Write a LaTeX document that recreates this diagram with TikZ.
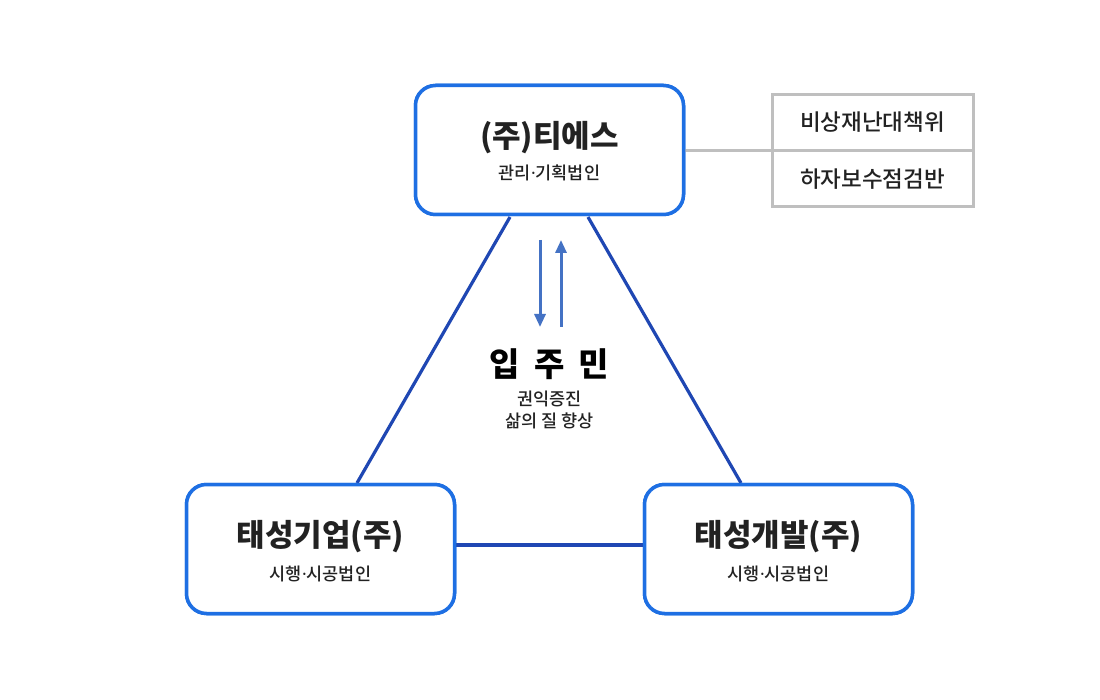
\documentclass[tikz,border=0pt]{standalone}
\usepackage{fontspec}
\setmainfont{Noto Sans CJK KR}
\newfontfamily\krm{Noto Sans CJK KR Medium}
\newfontfamily\latdot{Noto Sans}
\newcommand{\mdt}{{\latdot\bfseries ·}}
\usetikzlibrary{arrows.meta}
\definecolor{boxblue}{HTML}{1E6FE3}
\definecolor{lineblue}{HTML}{1F47B3}
\definecolor{arrblue}{HTML}{4472C4}
\definecolor{graybox}{HTML}{BFBFBF}
\definecolor{txt}{HTML}{222222}
\begin{document}
\begin{tikzpicture}[x=1pt,y=-1pt,
  corp/.style={draw=boxblue,line width=3.5pt,rounded corners=20pt,fill=white,minimum width=268pt,minimum height=129pt,inner sep=0pt},
  sidebox/.style={draw=graybox,line width=3pt,minimum width=201pt,minimum height=56pt,inner sep=0pt,text=txt,font=\fontsize{22.5}{26}\krm},
  tri/.style={draw=lineblue,line width=3.2pt},
  arr/.style={draw=arrblue,line width=3pt,-{Triangle[length=13pt,width=11pt]}},
  ttl/.style={text=txt,font=\fontsize{31}{35}\selectfont\bfseries,inner sep=0pt},
  sub/.style={text=txt,font=\fontsize{17.5}{20}\krm,inner sep=0pt}
]
\useasboundingbox (0,0) rectangle (1100,700);
\fill[white] (0,0) rectangle (1100,700);

\node[corp] (ts) at (549.5,150) {};
\node[corp] (ty) at (320.5,549) {};
\node[corp] (td) at (778.5,549) {};

\node[sidebox] (s1) at (872.5,122.5) {비상재난대책위};
\node[sidebox] (s2) at (872.5,179) {하자보수점검반};

\coordinate (t1) at (510,217);
\coordinate (t2) at (588,217);
\coordinate (b1) at (357,483);
\coordinate (b2) at (741,483);
\coordinate (hL) at (456,545);
\coordinate (hR) at (643,545);
\coordinate (gL) at (685,151);
\coordinate (gR) at (771,151);
\draw[draw=graybox,line width=3pt] (gL) -- (gR);
\draw[tri] (t1) -- (b1);
\draw[tri] (t2) -- (b2);
\draw[tri] (hL) -- (hR);

\node[corp] at (ts) {};
\node[corp] at (ty) {};
\node[corp] at (td) {};

\node[ttl] (tsT) at (549.5,138) {(주)티에스};
\node[sub] (tsS) at (549.5,173) {관리\mdt 기획법인};
\node[ttl] (tyT) at (320.5,537) {태성기업(주)};
\node[sub] (tyS) at (320.5,574) {시행\mdt 시공법인};
\node[ttl] (tdT) at (778.5,537) {태성개발(주)};
\node[sub] (tdS) at (778.5,574) {시행\mdt 시공법인};

\coordinate (a1s) at (540,240);
\coordinate (a1e) at (540,327);
\coordinate (a2s) at (561,327);
\coordinate (a2e) at (561,240);
\draw[arr] (a1s) -- (a1e);
\draw[arr] (a2s) -- (a2e);

\node[text=black,font=\fontsize{33}{37}\selectfont\bfseries,inner sep=0pt] (ip) at (549.5,364) {입\hspace{14pt}주\hspace{14pt}민};
\node[sub] (k1) at (549.5,399) {권익증진};
\node[sub] (k2) at (549.5,421) {삶의 질 향상};
\end{tikzpicture}
\end{document}
